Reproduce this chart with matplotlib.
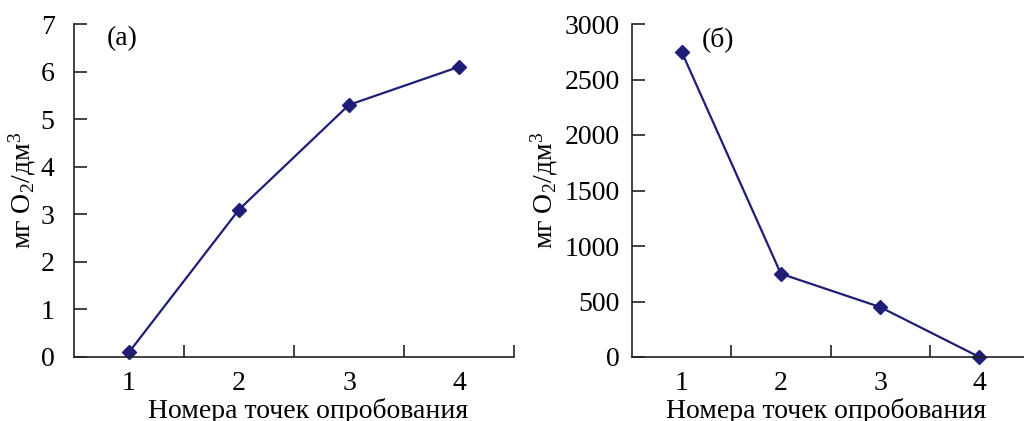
import matplotlib
matplotlib.use("Agg")
import matplotlib.pyplot as plt
from matplotlib.ticker import FixedLocator

plt.rcParams['font.family'] = ['Liberation Serif', 'DejaVu Serif']
plt.rcParams['mathtext.fontset'] = 'custom'
plt.rcParams['mathtext.rm'] = 'Liberation Serif'
plt.rcParams['mathtext.it'] = 'Liberation Serif:italic'

points = [1, 2, 3, 4]
values_a = [0.1, 3.1, 5.3, 6.1]
values_b = [2750, 750, 450, 0]
xlabel = "Номера точек опробования"
ylabel = "мг O$_2$/дм$^3$"
panel_labels = ["(а)", "(б)"]
yticks_a = [0, 1, 2, 3, 4, 5, 6, 7]
yticks_b = [0, 500, 1000, 1500, 2000, 2500, 3000]

color = '#1e1e76'
W, H = 1024, 421
fig = plt.figure(figsize=(W/100, H/100), dpi=100)

def make_ax(x0, x1, y_top, y_bot):
    return fig.add_axes([x0/W, (H-y_bot)/H, (x1-x0)/W, (y_bot-y_top)/H])

ax1 = make_ax(74, 514, 24, 357)
ax2 = make_ax(632, 1029, 24, 357)

for ax, vals, yt, lab, lx, ypad in [(ax1, values_a, yticks_a, panel_labels[0], 0.075, 14),
                                    (ax2, values_b, yticks_b, panel_labels[1], 0.175, 9)]:
    ax.plot(points, vals, color=color, lw=1.6, marker='D', ms=7.5, mec=color, mfc=color, clip_on=False)
    ax.set_xlim(0.5, 4.5)
    ax.set_ylim(yt[0], yt[-1])
    ax.set_yticks(yt)
    ax.set_xticks(points)
    ax.xaxis.set_minor_locator(FixedLocator([1.5, 2.5, 3.5, 4.5]))
    ax.tick_params(axis='x', which='major', length=0, labelsize=20, pad=10)
    ax.tick_params(axis='x', which='minor', direction='in', length=9, width=1.2, color='#222222')
    ax.tick_params(axis='y', direction='in', length=9, width=1.2, labelsize=20, pad=ypad, color='#222222')
    for s in ['top', 'right']:
        ax.spines[s].set_visible(False)
    for s in ['left', 'bottom']:
        ax.spines[s].set_linewidth(1.2)
        ax.spines[s].set_color('#222222')
    ax.set_xlabel(xlabel, fontsize=20)
    ax.set_ylabel(ylabel, fontsize=20)
    ax.text(lx, 0.955, lab, transform=ax.transAxes, fontsize=20, va='center', ha='left')

ax1.yaxis.set_label_coords(-36/440, 0.5)
ax2.yaxis.set_label_coords(-72/397, 0.5)
ax1.xaxis.set_label_coords((308-74)/440, -41/333)
ax2.xaxis.set_label_coords((826-632)/397, -41/333)

fig.savefig('out.png', dpi=100)
